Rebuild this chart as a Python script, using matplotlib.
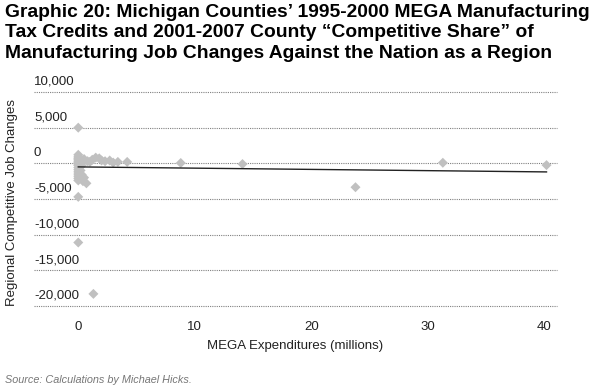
import matplotlib
matplotlib.use("Agg")
import matplotlib.pyplot as plt
from matplotlib.transforms import blended_transform_factory, offset_copy

plt.rcParams['font.family'] = ['Liberation Sans', 'DejaVu Sans']

# --- data ---
mega_x = [0, 0, 0, 1.3,
          0, 0, 0, 0, 0, 0, 0, 0, 0, 0, 0, 0, 0, 0, 0,
          0.1, 0.2, 0.3, 0.2, 0.4, 0.5, 0.7, 0.3,
          0.5, 0.8, 1.0, 1.2, 1.5, 1.8, 2.0, 2.3, 2.7, 3.0, 3.4, 4.2,
          8.8, 14.1, 23.8, 31.3, 40.2]
job_changes = [5000, -4700, -11100, -18300,
               1200, 900, 700, 500, 300, 100, -100, -300, -600, -900, -1200, -1500, -1800, -2100, -2400,
               800, 400, -300, -1000, -2500, -2000, -2800, -1600,
               600, 300, 200, 500, 800, 700, 400, 300, 400, 100, 200, 200,
               50, -100, -3350, 80, -250]
trend_intercept = -500
trend_slope = -17.5
trend_x = [0, 40.2]

y_ticks = [10000, 5000, 0, -5000, -10000, -15000, -20000]
x_ticks = [0, 10, 20, 30, 40]

title = ("Graphic 20: Michigan Counties\u2019 1995-2000 MEGA Manufacturing\n"
         "Tax Credits and 2001-2007 County \u201cCompetitive Share\u201d of\n"
         "Manufacturing Job Changes Against the Nation as a Region")

W, H = 600, 389
fig = plt.figure(figsize=(W / 100, H / 100), dpi=100)
left, right, top, bottom = 34, 557, 92, 306
ax = fig.add_axes([left / W, 1 - bottom / H, (right - left) / W, (bottom - top) / H])

ax.set_xlim(-3.8, 41.1)
ax.set_ylim(-20000, 10000)

for yv in y_ticks:
    ax.axhline(yv, color='#808080', lw=0.8, ls=(0, (1, 1)), clip_on=False, zorder=1)

ax.scatter(mega_x, job_changes, marker='D', s=26, color='#c0c0c0', edgecolors='none', zorder=3)
trend_y = [trend_intercept + trend_slope * x for x in trend_x]
ax.plot(trend_x, trend_y, color='#222222', lw=1.0, zorder=4)

for s in ax.spines.values():
    s.set_visible(False)
ax.set_yticks([])
ax.set_xticks(x_ticks)
ax.set_xticklabels([str(v) for v in x_ticks], fontsize=9.5, color='#222222')
ax.tick_params(axis='x', length=0, pad=11)

trans = blended_transform_factory(ax.transAxes, ax.transData)
trans = offset_copy(trans, fig=fig, x=0, y=3, units='points')
for yv in y_ticks:
    ax.text(0.0, yv, f"{yv:,}", transform=trans, ha='left', va='bottom',
            fontsize=9.5, color='#222222')

ax.set_xlabel("MEGA Expenditures (millions)", fontsize=9.5, color='#222222', labelpad=5)
fig.text(12 / W, 1 - 202 / H, "Regional Competitive Job Changes", rotation=90,
         ha='center', va='center', fontsize=9.5, color='#222222')

fig.text(5 / W, 1 - 4 / H, title, ha='left', va='top', fontsize=13.9,
         fontweight='bold', linespacing=1.25, color='black')
fig.text(5 / W, 1 - 380 / H, "Source: Calculations by Michael Hicks.", ha='left',
         va='center', fontsize=7.8, style='italic', color='#777777')

fig.savefig("out.png", dpi=100)
